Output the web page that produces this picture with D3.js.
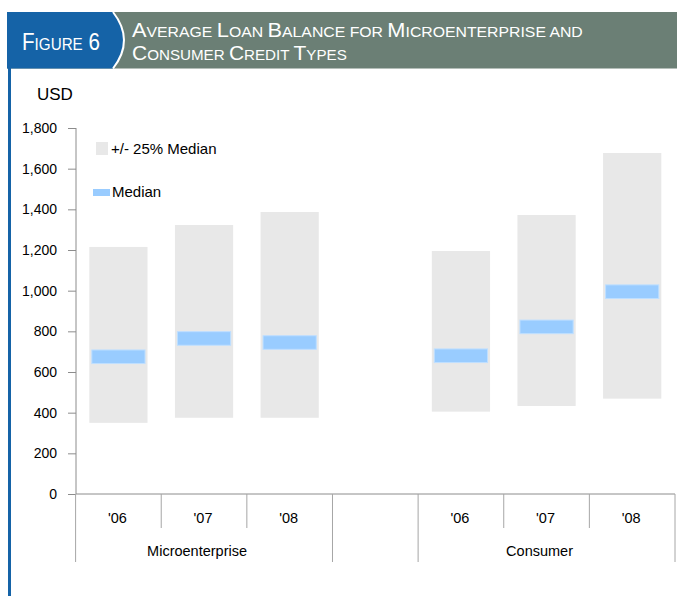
<!DOCTYPE html>
<html>
<head>
<meta charset="utf-8">
<script src="https://cdn.jsdelivr.net/npm/d3@7/dist/d3.min.js"></script>
<style>
  html, body { margin: 0; padding: 0; background: #fff; }
  svg { display: block; }
</style>
</head>
<body>
<svg id="chart" width="677" height="596"></svg>
<script>
// Loan balance ranges (USD) per credit type and year
const groups = ["Microenterprise", "Consumer"];
const years = ["'06", "'07", "'08"];
const lowValues = [350, 375, 375, 405, 433, 469];      // lower edge of the range
const highValues = [1215, 1323, 1387, 1195, 1372, 1677]; // upper edge of the range
const medianValues = [675, 765, 745, 680, 822, 995];
const yTicks = [0, 200, 400, 600, 800, 1000, 1200, 1400, 1600, 1800];
const legendLabels = ["+/- 25% Median", "Median"];

const BLUE = "#1563a7";
const HEADER_GREY = "#6b7f75";
const RANGE_FILL = "#e8e8e8";
const MEDIAN_FILL = "#99ccff";
const AXIS = "#8c8c8c";

const svg = d3.select("#chart");

// ---------- header banner ----------
const header = svg.append("g");
header.append("rect").attr("x", 7).attr("y", 12).attr("width", 670).attr("height", 56.5).attr("fill", HEADER_GREY);
header.append("path").attr("d", "M7,12 L113,12 Q135,40.25 113,68.5 L7,68.5 Z").attr("fill", BLUE);
header.append("path").attr("d", "M113,12 Q135,40.25 113,68.5").attr("fill", "none").attr("stroke", "#fff").attr("stroke-width", 2);
// left rule running down the page
svg.append("rect").attr("x", 8).attr("y", 68).attr("width", 3).attr("height", 528).attr("fill", BLUE);

// small-caps text, condensed horizontally to a given width; parts are [text, isCapital]
function smallCaps(g, x, y, parts, bigSize, smallSize, width) {
  const holder = g.append("g").attr("transform", `translate(${x},${y})`);
  const t = holder.append("text").attr("x", 0).attr("y", 0)
    .attr("fill", "#fff").attr("font-family", "'Liberation Sans', Arial, sans-serif");
  parts.forEach(([s, big]) => {
    t.append("tspan").attr("font-size", big ? bigSize : smallSize).text(big ? s : s.toUpperCase());
  });
  const natural = t.node().getComputedTextLength();
  t.attr("transform", `scale(${width / natural},1)`);
  return t;
}
smallCaps(header, 22, 50, [["F", true], ["igure", false], [" 6", true]], 23, 17, 78);
smallCaps(header, 132, 36.5, [
  ["A", true], ["verage ", false], ["L", true], ["oan ", false], ["B", true], ["alance for ", false],
  ["M", true], ["icroenterprise and", false]
], 20, 14.5, 451);
smallCaps(header, 132, 60, [
  ["C", true], ["onsumer ", false], ["C", true], ["redit ", false], ["T", true], ["ypes", false]
], 20, 14.5, 215);

// ---------- chart ----------
const slots = ["M0", "M1", "M2", "gap", "C0", "C1", "C2"];
const items = [];
groups.forEach((g, gi) => years.forEach((yr, yi) => {
  const i = gi * 3 + yi;
  items.push({ slot: (gi === 0 ? "M" : "C") + yi, year: yr, low: lowValues[i], high: highValues[i], median: medianValues[i] });
}));

const x = d3.scaleBand().domain(slots).range([75.6, 675]).paddingInner(0).paddingOuter(0);
const y = d3.scaleLinear().domain([0, 1800]).range([494, 128]);
const barW = x.bandwidth() * 0.68;
const medianH = 13.6;

const font = "'Liberation Sans', Arial, sans-serif";

// range bars
svg.append("g").selectAll("rect").data(items).join("rect")
  .attr("x", d => x(d.slot) + x.bandwidth() / 2 - barW / 2)
  .attr("width", barW)
  .attr("y", d => y(d.high))
  .attr("height", d => y(d.low) - y(d.high))
  .attr("fill", RANGE_FILL);

// median bands
svg.append("g").selectAll("rect").data(items).join("rect")
  .attr("x", d => x(d.slot) + x.bandwidth() / 2 - barW / 2 + 2.5)
  .attr("width", barW - 5)
  .attr("y", d => y(d.median) - medianH / 2)
  .attr("height", medianH)
  .attr("fill", MEDIAN_FILL)
  .attr("stroke", "#bfdfff")
  .attr("stroke-width", 1);

// y axis
const yAxis = svg.append("g").attr("transform", "translate(76,0)")
  .call(d3.axisLeft(y).tickValues(yTicks).tickSize(8).tickPadding(11).tickFormat(d3.format(",")));
yAxis.select(".domain").attr("stroke", AXIS).attr("d", `M0,${y(1800)}V${y(0)}`);
yAxis.selectAll(".tick line").attr("stroke", AXIS);
yAxis.selectAll(".tick text").attr("font-family", font).attr("font-size", 14).attr("fill", "#000");

svg.append("text").attr("x", 37).attr("y", 100).attr("font-family", font).attr("font-size", 17).attr("fill", "#000").text("USD");

// x axis: baseline, dividers, labels
const xg = svg.append("g");
xg.append("line").attr("x1", 76).attr("x2", 675).attr("y1", y(0)).attr("y2", y(0)).attr("stroke", AXIS);
const edges = slots.map(s => x(s)).concat([x.range()[1]]);
const longEdges = new Set([0, 3, 4, 7]);
xg.selectAll("line.div").data(edges).join("line").attr("class", "div")
  .attr("x1", d => d).attr("x2", d => d)
  .attr("y1", y(0)).attr("y2", (d, i) => longEdges.has(i) ? 562 : 528)
  .attr("stroke", "#a6a6a6");

xg.selectAll("text.yr").data(items).join("text").attr("class", "yr")
  .attr("x", d => x(d.slot) + x.bandwidth() / 2 - 1)
  .attr("y", 523)
  .attr("text-anchor", "middle").attr("font-family", font).attr("font-size", 14.5).attr("fill", "#000")
  .text(d => d.year);

xg.selectAll("text.grp").data(groups).join("text").attr("class", "grp")
  .attr("x", (d, i) => (i === 0 ? x("M1") : x("C1")) + x.bandwidth() / 2 - 7)
  .attr("y", 556)
  .attr("text-anchor", "middle").attr("font-family", font).attr("font-size", 14.5).attr("fill", "#000")
  .text(d => d);

// legend
const lg = svg.append("g");
lg.append("rect").attr("x", 96).attr("y", 142).attr("width", 12).attr("height", 13).attr("fill", RANGE_FILL);
lg.append("text").attr("x", 111).attr("y", 154).attr("font-family", font).attr("font-size", 15).attr("fill", "#000").text(legendLabels[0]);
lg.append("rect").attr("x", 93).attr("y", 189).attr("width", 17).attr("height", 7).attr("fill", MEDIAN_FILL);
lg.append("text").attr("x", 112).attr("y", 197).attr("font-family", font).attr("font-size", 15).attr("fill", "#000").text(legendLabels[1]);
</script>
</body>
</html>
